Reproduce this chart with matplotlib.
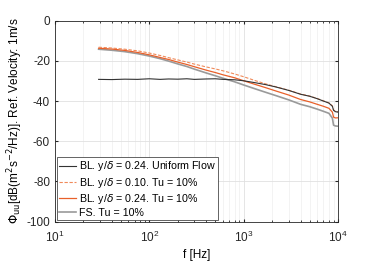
import matplotlib.pyplot as plt
import numpy as np

plt.rcParams['font.family'] = ['Liberation Sans', 'DejaVu Sans']
plt.rcParams['mathtext.fontset'] = 'dejavusans'

# Frequencies [Hz]
f = [29, 40, 55, 75, 100, 130, 160, 200, 250, 300, 400, 500, 600, 800,
     1000, 1300, 1700, 2200, 3000, 4000, 5000, 6000, 7000, 8000, 8700,
     8950, 9400, 10000]

# Spectra [dB]
bl_uniform = [-29.2, -29.3, -29.1, -29.2, -28.9, -29.2, -29.0, -29.1, -28.9,
              -29.2, -29.0, -28.9, -29.2, -29.4, -29.9, -30.8, -31.8, -33.0,
              -34.7, -36.6, -37.6, -38.8, -40.0, -41.0, -42.6, -44.6, -45.3, -45.5]
bl_010_tu10 = [-13.2, -13.6, -14.2, -15.0, -16.1, -17.3, -18.4, -19.5, -20.6,
               -21.6, -23.0, -24.0, -24.9, -26.5, -27.9, -29.7, -31.4, -32.9,
               -34.6, -36.5, -37.5, -38.7, -39.9, -40.9, -42.4, -44.4, -45.1, -45.3]
bl_024_tu10 = [-13.7, -14.1, -14.8, -15.8, -17.0, -18.3, -19.3, -20.6, -21.8,
               -22.9, -24.6, -25.8, -26.9, -28.4, -29.9, -31.6, -33.3, -35.0,
               -37.0, -39.2, -40.4, -41.6, -42.6, -43.6, -45.5, -48.0, -48.4, -48.3]
fs_tu10 = [-14.2, -14.7, -15.4, -16.4, -17.6, -18.9, -20.1, -21.5, -22.8,
           -24.1, -26.0, -27.4, -28.6, -30.4, -32.0, -33.8, -35.6, -37.3,
           -39.4, -41.6, -42.8, -44.0, -45.1, -46.1, -48.5, -52.0, -52.4, -52.5]

labels = [r'BL. y/$\delta$ = 0.24. Uniform Flow',
          r'BL. y/$\delta$ = 0.10. Tu = 10%',
          r'BL. y/$\delta$ = 0.24. Tu = 10%',
          'FS. Tu = 10%']

fig = plt.figure(figsize=(3.74, 2.62), dpi=100)
ax = fig.add_axes([0.147, 0.154, 0.757, 0.767])

ax.plot(f, fs_tu10, color='#9a9a9a', lw=1.2, label=labels[3])
ax.plot(f, bl_024_tu10, color='#e8602a', lw=0.9, ls='-', label=labels[2])
ax.plot(f, bl_010_tu10, color='#f08a5a', lw=0.8, ls='--', dashes=(3, 1.5), label=labels[1])
ax.plot(f, bl_uniform, color='#333333', lw=0.8, label=labels[0])

ax.set_xscale('log')
ax.set_xlim(10, 10000)
ax.set_ylim(-100, 0)
ax.set_yticks([0, -20, -40, -60, -80, -100])
ax.set_yticklabels(['0', '-20', '-40', '-60', '-80', '-100'])
ax.grid(True, which='major', color='#e0e0e0', lw=0.6)
ax.grid(True, which='minor', color='#efefef', lw=0.5)
ax.tick_params(which='both', direction='in', labelsize=8.5, colors='#262626',
               top=True, right=True, length=2.5)
ax.tick_params(axis='x', which='both', pad=6)
ax.tick_params(which='minor', length=1.5)
for s in ax.spines.values():
    s.set_color('#262626')
    s.set_linewidth(0.6)

ax.set_xlabel('f [Hz]', fontsize=8.5, labelpad=3)
ax.set_ylabel(r'$\Phi_{\mathrm{uu}}$[dB(m$^2$s$^{-2}$/Hz)]. Ref. Velocity: 1m/s',
              fontsize=8.5, labelpad=1)

h, l = ax.get_legend_handles_labels()
h = [h[3], h[2], h[1], h[0]]
l = [l[3], l[2], l[1], l[0]]
leg = ax.legend(h, l, loc='lower left', fontsize=7.7, handlelength=1.6,
                handletextpad=0.3, borderaxespad=0.15, borderpad=0.2,
                labelspacing=0.2, fancybox=False, framealpha=1,
                edgecolor='#262626')
leg.get_frame().set_linewidth(0.5)

fig.savefig('out.png', dpi=100)
